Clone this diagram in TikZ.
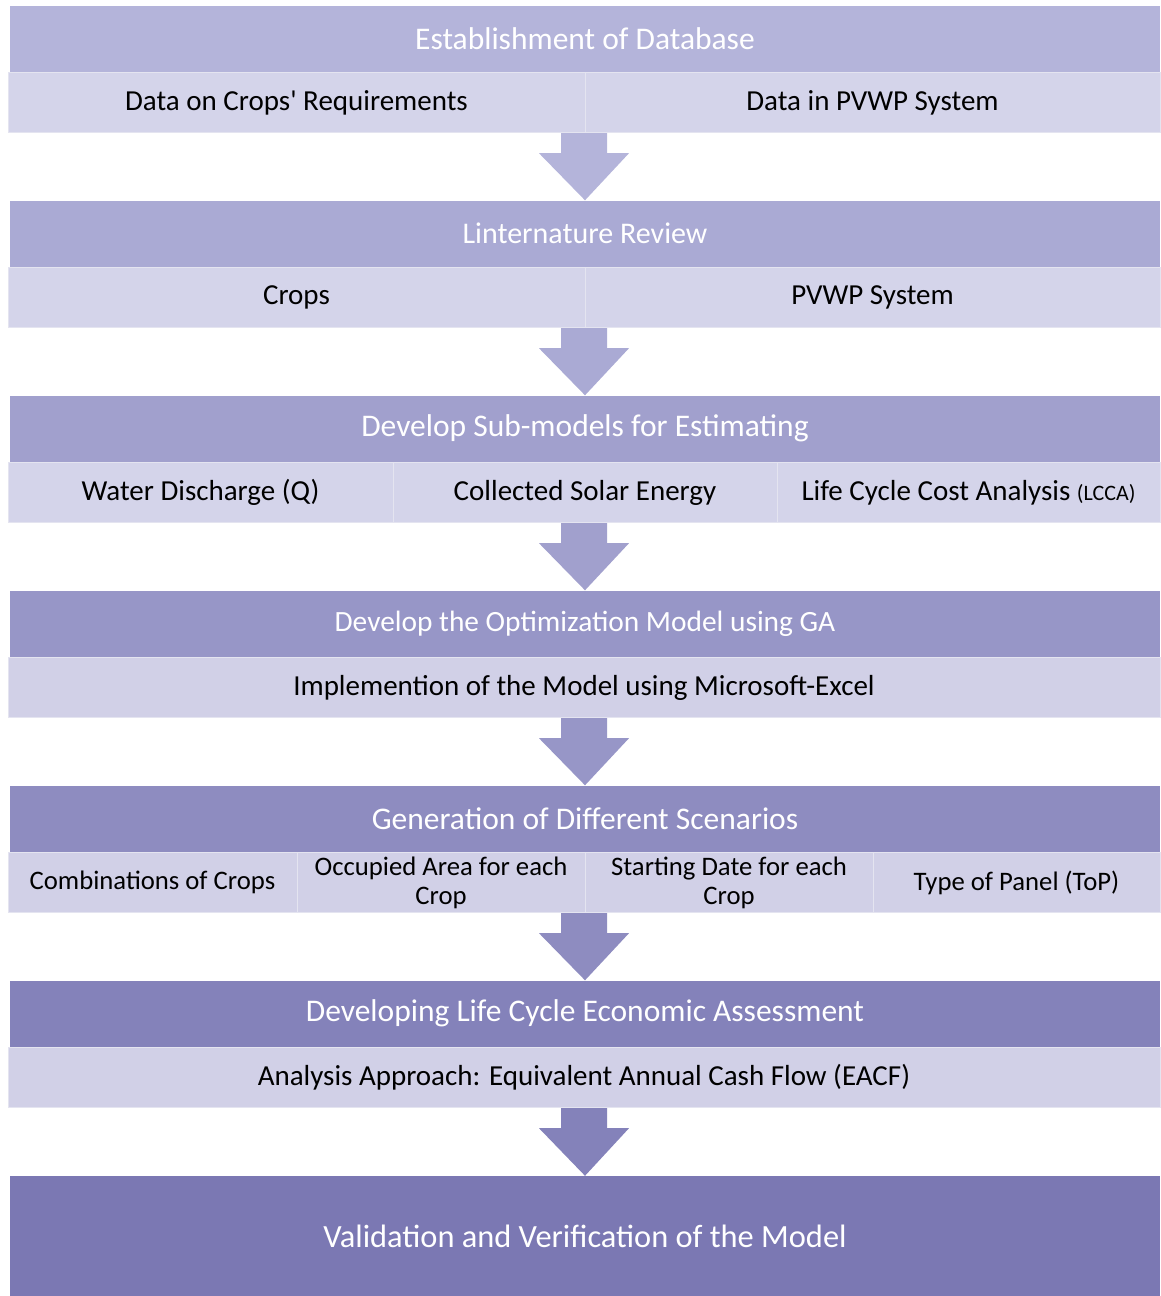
\documentclass[tikz,border=0pt]{standalone}
\usepackage{fontspec}
\setmainfont{Carlito}
\usetikzlibrary{calc}
\definecolor{hA}{RGB}{180,180,218}
\definecolor{hB}{RGB}{170,170,212}
\definecolor{hC}{RGB}{161,160,205}
\definecolor{hD}{RGB}{151,150,199}
\definecolor{hE}{RGB}{142,140,192}
\definecolor{hF}{RGB}{132,130,186}
\definecolor{hG}{RGB}{123,120,179}
\definecolor{subA}{RGB}{212,212,234}
\definecolor{subB}{RGB}{209,208,231}
\definecolor{sepc}{RGB}{228,228,240}
\tikzset{
  hdr/.style={fill=#1, draw=none, minimum height=66pt, minimum width=1150pt, inner sep=0pt, text=white, font=\fontsize{31.5}{33}\selectfont},
  subrow/.style={fill=#1, draw=none, minimum height=61pt, minimum width=1152pt, inner sep=0pt},
  cell/.style={draw=sepc, line width=0.8pt, minimum height=60pt, inner sep=0pt, align=center, font=\fontsize{29}{29.5}\selectfont, text=black},
  smallcell/.style={cell, font=\fontsize{26.7}{29}\selectfont},
  flowarrow/.style={fill=#1, draw=none},
}
\newcommand{\flowarr}[3]{%
  \fill[flowarrow=#3] ($(#1.south)+(-23,0)$) -- ($(#1.south)+(23,0)$) -- ($(#1.south)+(23,20)$) -- ($(#1.south)+(45,20)$) -- (#2.north) -- ($(#1.south)+(-45,20)$) -- ($(#1.south)+(-23,20)$) -- cycle;}
\begin{document}
\begin{tikzpicture}[x=1pt,y=-1pt]
\useasboundingbox (0,0) rectangle (1160,1296);
% Block 1
\node[hdr=hA] (h1) at (585,38.5) {Establishment of Database};
\node[subrow=subA] (r1) at (584,102.5) {};
\node[cell, minimum width=577pt] (c1a) at (296.5,102.5) {Data on Crops\textquotesingle{} Requirements};
\node[cell, minimum width=575pt] (c1b) at (872.5,102.5) {Data in PVWP System};
% Block 2
\node[hdr=hB, font=\fontsize{30}{32}\selectfont] (h2) at (585,233.5) {Linternature Review};
\node[subrow=subA] (r2) at (584,297.5) {};
\node[cell, minimum width=577pt] (c2a) at (296.5,297.5) {Crops};
\node[cell, minimum width=575pt] (c2b) at (872.5,297.5) {PVWP System};
% Block 3
\node[hdr=hC] (h3) at (585,428.5) {Develop Sub-models for Estimating};
\node[subrow=subA] (r3) at (584,492.5) {};
\node[cell, minimum width=385pt] (c3a) at (200.5,492.5) {Water Discharge (Q)};
\node[cell, minimum width=384pt] (c3b) at (585,492.5) {Collected Solar Energy};
\node[cell, minimum width=383pt] (c3c) at (968.5,492.5) {Life Cycle Cost Analysis {\fontsize{22}{24}\selectfont (LCCA)}};
% Block 4
\node[hdr=hD, font=\fontsize{29.4}{31}\selectfont] (h4) at (585,623.5) {Develop the Optimization Model using GA};
\node[subrow=subB] (r4) at (584,687.5) {};
\node[cell, minimum width=1152pt] (c4a) at (584,687.5) {Implemention of the Model using Microsoft-Excel};
% Block 5
\node[hdr=hE] (h5) at (585,818.5) {Generation of Different Scenarios};
\node[subrow=subB] (r5) at (584,882.5) {};
\node[smallcell, minimum width=289pt] (c5a) at (152.5,882.5) {Combinations of Crops};
\node[smallcell, minimum width=288pt] (c5b) at (441,882.5) {Occupied Area for each\\Crop};
\node[smallcell, minimum width=288pt] (c5c) at (729,882.5) {Starting Date for each\\Crop};
\node[smallcell, minimum width=287pt] (c5d) at (1016.5,882.5) {Type of Panel (ToP)};
% Block 6
\node[hdr=hF] (h6) at (585,1013.5) {Developing Life Cycle Economic Assessment};
\node[subrow=subB] (r6) at (584,1077.5) {};
\node[cell, minimum width=1152pt] (c6a) at (584,1077.5) {Analysis Approach: Equivalent Annual Cash Flow (EACF)};
% Block 7
\node[hdr=hG, minimum height=120pt, font=\fontsize{32.4}{34}\selectfont] (h7) at (585,1236) {Validation and Verification of the Model};
% Arrows
\flowarr{r1}{h2}{hA}
\flowarr{r2}{h3}{hB}
\flowarr{r3}{h4}{hC}
\flowarr{r4}{h5}{hD}
\flowarr{r5}{h6}{hE}
\flowarr{r6}{h7}{hF}
\end{tikzpicture}
\end{document}
